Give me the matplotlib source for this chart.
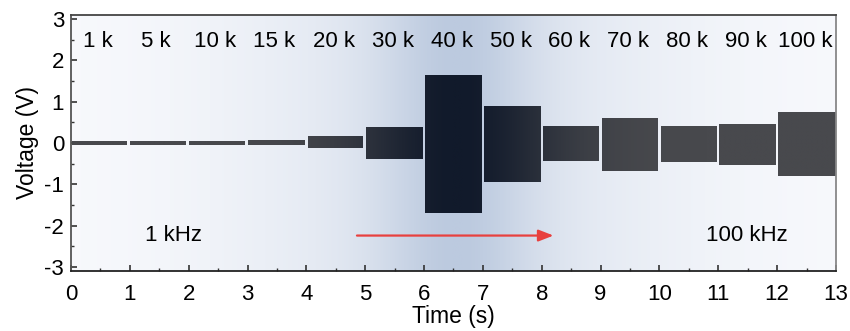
import numpy as np
import matplotlib.pyplot as plt
from matplotlib.colors import LinearSegmentedColormap
from matplotlib.path import Path
from matplotlib.patches import PathPatch

plt.rcParams['font.family'] = ['Liberation Sans', 'DejaVu Sans']
plt.rcParams['axes.unicode_minus'] = False

# Datos
frecuencias = ['1 k', '5 k', '10 k', '15 k', '20 k', '30 k', '40 k',
               '50 k', '60 k', '70 k', '80 k', '90 k', '100 k']
t_inicio = [0.01, 1.0, 2.0, 3.0, 4.02, 5.02, 6.02, 7.02, 8.02, 9.02, 10.02, 11.02, 12.02]
t_fin = [0.96, 1.96, 2.96, 3.97, 4.97, 5.98, 6.98, 7.98, 8.98, 9.98, 10.98, 11.98, 13.0]
v_max = [0.04, 0.04, 0.04, 0.07, 0.18, 0.38, 1.65, 0.90, 0.41, 0.60, 0.40, 0.45, 0.74]
v_min = [-0.04, -0.04, -0.04, -0.06, -0.13, -0.39, -1.70, -0.95, -0.44, -0.68, -0.46, -0.53, -0.80]

fig = plt.figure(figsize=(8.5, 3.31), dpi=100)
ax = fig.add_axes([0.0835, 0.181, 0.9, 0.774])
ax.set_xlim(0, 13)
ax.set_ylim(-3.1, 3.1)

# Fondo degradado
xs = np.linspace(0, 13, 600)
d = xs - 6.56
perfil = 0.55 * np.exp(-(d / 1.3) ** 2) + 0.45 * np.exp(-(d / 4.0) ** 2)
fondo = LinearSegmentedColormap.from_list('fondo', ['#f9fafd', '#bccadf'])
ax.imshow(perfil[np.newaxis, :], cmap=fondo, vmin=0, vmax=1, aspect='auto',
          extent=[0, 13, -3.1, 3.1], zorder=0, interpolation='bilinear')

# Bloques de senal (envolventes), con degradado recortado
rects = []
for a, b, hi, lo in zip(t_inicio, t_fin, v_max, v_min):
    rects.append(Path([(a, lo), (b, lo), (b, hi), (a, hi), (a, lo)], closed=True))
ruta = Path.make_compound_path(*rects)
parche = PathPatch(ruta, transform=ax.transData, facecolor='none', edgecolor='none')
ax.add_patch(parche)
bloques = LinearSegmentedColormap.from_list('bloques', ['#48494d', '#111a2b'])
perfil2 = np.exp(-((xs - 6.56) / 1.8) ** 2)
im = ax.imshow(perfil2[np.newaxis, :], cmap=bloques, vmin=0, vmax=1, aspect='auto',
               extent=[0, 13, -3.1, 3.1], zorder=2, interpolation='bilinear')
im.set_clip_path(parche)

# Etiquetas de frecuencia
for i, f in enumerate(frecuencias):
    ax.text((t_inicio[i] + t_fin[i]) / 2 - 0.03, 2.45, f, ha='center', va='center', fontsize=16)

ax.text(1.75, -2.23, '1 kHz', ha='center', va='center', fontsize=16)
ax.text(11.48, -2.23, '100 kHz', ha='center', va='center', fontsize=16)

# Flecha roja
ax.annotate('', xy=(8.2, -2.24), xytext=(4.86, -2.24),
            arrowprops=dict(arrowstyle='-|>,head_length=0.9,head_width=0.35',
                            color='#e8403e', lw=1.6, shrinkA=0, shrinkB=0), zorder=3)

# Ejes
ax.set_xticks(range(0, 14))
ax.set_yticks(range(-3, 4))
ax.set_xticks(np.arange(0.5, 13, 1), minor=True)
ax.set_yticks(np.arange(-2.5, 3, 1), minor=True)
ax.tick_params(which='both', direction='in', labelsize=16, top=False, right=False)
ax.tick_params(which='major', length=4, width=1.2, color='#333333')
ax.tick_params(which='minor', length=2, width=1, color='#333333')
ax.tick_params(axis='x', pad=9)
ax.tick_params(axis='y', pad=5)
ax.spines['left'].set_color('#555555')
ax.spines['bottom'].set_color('#222222')
ax.spines['top'].set_color('#444444')
ax.spines['right'].set_color('#888888')
for s in ax.spines.values():
    s.set_linewidth(1.3)
    s.set_zorder(5)

ax.set_xlabel('Time (s)', fontsize=16.5, labelpad=0)
ax.set_ylabel('Voltage (V)', fontsize=16.5, labelpad=4)

plt.savefig('out.png', dpi=100)
